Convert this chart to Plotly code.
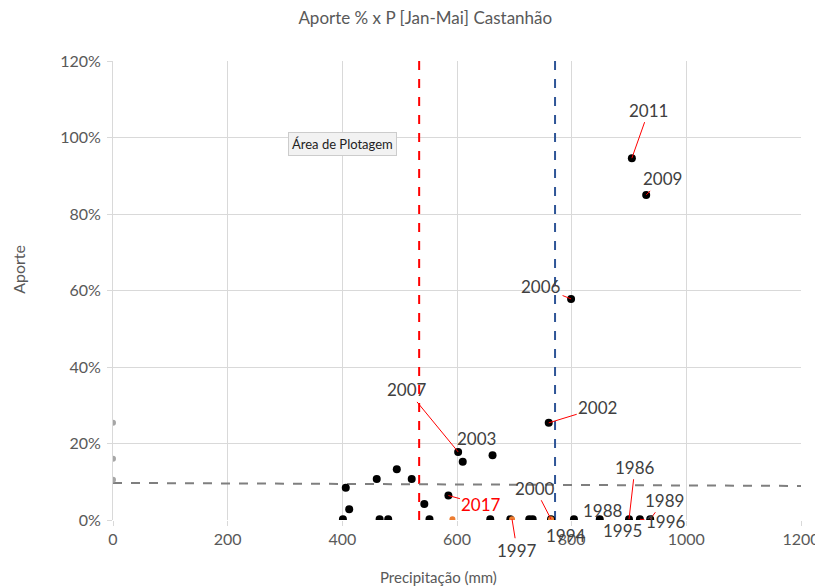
import plotly.graph_objects as go

# Black points: precipitation (mm) and inflow (fraction)
precip = [401, 406, 412, 460, 465, 480, 495, 521, 543, 552, 585, 602, 610, 662,
          658, 693, 726, 732, 760, 764, 799, 804, 849, 900, 905, 919, 930, 937]
aporte = [0.002, 0.084, 0.028, 0.107, 0.002, 0.002, 0.133, 0.107, 0.042, 0.002, 0.064, 0.178, 0.152, 0.169,
          0.002, 0.002, 0.002, 0.002, 0.254, 0.002, 0.578, 0.002, 0.002, 0.002, 0.946, 0.002, 0.850, 0.002]

# Orange points
orange_precip = [592, 696, 764]
orange_aporte = [0.002, 0.002, 0.002]

# Gray points on the y axis
gray_precip = [0, 0, 0]
gray_aporte = [0.254, 0.160, 0.105]

# Trend line (dashed gray)
trend_x = [0, 1200]
trend_y = [0.097, 0.089]

# Reference vertical lines
red_line_x = 534
blue_line_x = 771

# Labels: (text, point x, point y, dx px, dy px, leader, color)
labels = [
    ("2011", 905, 0.946, 17, -48, True, "#404040"),
    ("2009", 930, 0.850, 16, -16, True, "#404040"),
    ("2006", 799, 0.578, -30, -12, True, "#404040"),
    ("2002", 760, 0.254, 49, -15, True, "#404040"),
    ("2007", 602, 0.178, -51, -62, True, "#404040"),
    ("2003", 610, 0.152, 14, -23, False, "#404040"),
    ("2017", 585, 0.064, 33, 9, True, "#ff0000"),
    ("2000", 764, 0.002, -16, -31, True, "#404040"),
    ("1994", 764, 0.002, 15, 16, False, "#404040"),
    ("1997", 696, 0.002, 5, 31, True, "#404040"),
    ("1988", 849, 0.002, 3, -9, False, "#404040"),
    ("1995", 900, 0.002, -7, 11, False, "#404040"),
    ("1986", 900, 0.002, 6, -52, True, "#404040"),
    ("1989", 937, 0.002, 14, -19, True, "#404040"),
    ("1996", 919, 0.002, 26, 2, True, "#404040"),
]

FONT = "Lato, 'Open Sans', sans-serif"

fig = go.Figure()

fig.add_trace(go.Scatter(x=[red_line_x, red_line_x], y=[0, 1.2], mode="lines",
                         line=dict(color="#ff0000", width=2, dash="dash"), hoverinfo="skip"))
fig.add_trace(go.Scatter(x=[blue_line_x, blue_line_x], y=[0, 1.2], mode="lines",
                         line=dict(color="#2f5597", width=2, dash="dash"), hoverinfo="skip"))
fig.add_trace(go.Scatter(x=trend_x, y=trend_y, mode="lines",
                         line=dict(color="#7f7f7f", width=2, dash="dash"), hoverinfo="skip"))
fig.add_trace(go.Scatter(x=gray_precip, y=gray_aporte, mode="markers",
                         marker=dict(color="#a6a6a6", size=6)))
fig.add_trace(go.Scatter(x=precip, y=aporte, mode="markers",
                         marker=dict(color="#000000", size=8)))
fig.add_trace(go.Scatter(x=orange_precip, y=orange_aporte, mode="markers",
                         marker=dict(color="#ed7d31", size=6)))

for text, px, py, dx, dy, leader, col in labels:
    fig.add_annotation(x=px, y=py, text=text, showarrow=True, ax=dx, ay=dy,
                       arrowhead=0, arrowwidth=1,
                       arrowcolor="#ff0000" if leader else "rgba(0,0,0,0)",
                       font=dict(family=FONT, size=17, color=col))

fig.add_annotation(x=401, y=0.983, text="Área de Plotagem", showarrow=False,
                   font=dict(family=FONT, size=13, color="#222222"),
                   bgcolor="#f2f2f2", bordercolor="#cccccc", borderwidth=1, borderpad=3)

# Axis titles (placed as in the reference, offset from the plot centre)
fig.add_annotation(xref="paper", yref="paper", x=0.4724, y=0, yanchor="top", yshift=-46,
                   text="Precipitação (mm)", showarrow=False,
                   font=dict(family=FONT, size=15, color="#595959"))
fig.add_annotation(xref="paper", yref="paper", x=0, y=0.545, xanchor="center", xshift=-94,
                   textangle=-90, text="Aporte", showarrow=False,
                   font=dict(family=FONT, size=16, color="#595959"))

fig.update_layout(
    width=815, height=579,
    margin=dict(l=105, r=22, t=53, b=67, autoexpand=False),
    paper_bgcolor="white", plot_bgcolor="white",
    showlegend=False,
    title=dict(text="Aporte % x P [Jan-Mai] Castanhão", x=0.512, xanchor="center",
               y=0.983, yanchor="middle",
               font=dict(family=FONT, size=17, color="#595959")),
    font=dict(family=FONT, color="#595959"),
)
fig.update_xaxes(range=[0, 1200], tickvals=[0, 200, 400, 600, 800, 1000, 1200],
                 automargin=False,
                 showgrid=True, gridcolor="#d9d9d9", zeroline=False,
                 showline=False, ticks="outside", ticklen=5, tickcolor="#d9d9d9",
                 tickfont=dict(family=FONT, size=16, color="#595959"))
fig.update_yaxes(range=[0, 1.2], tickvals=[0, 0.2, 0.4, 0.6, 0.8, 1.0, 1.2], tickformat=".0%",
                 automargin=False,
                 showgrid=True, gridcolor="#d9d9d9", zeroline=False,
                 showline=True, linecolor="#d9d9d9", ticks="outside", ticklen=5, tickcolor="#d9d9d9",
                 ticklabelstandoff=3,
                 tickfont=dict(family=FONT, size=16, color="#595959"))

fig.write_html("out.html")
